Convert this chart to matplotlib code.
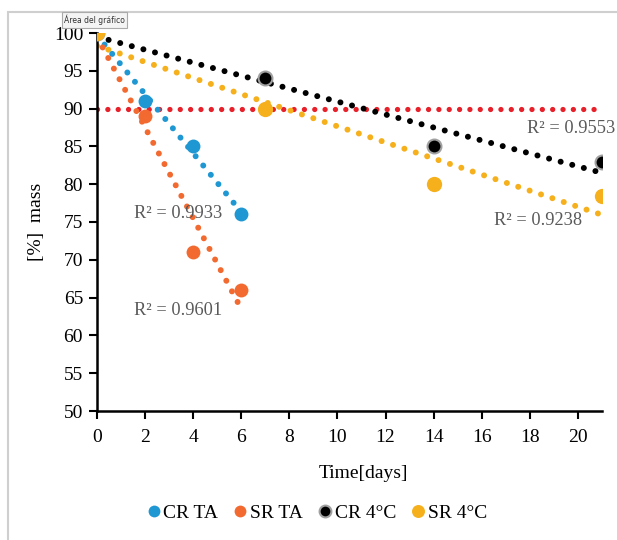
import numpy as np
import matplotlib
matplotlib.use("Agg")
import matplotlib.pyplot as plt
from matplotlib.patches import Rectangle

# ---- data ----
cr_ta_x = [0, 2, 4, 6]
cr_ta_y = [100, 91, 85, 76]
sr_ta_x = [0, 2, 4, 6]
sr_ta_y = [100, 89, 71, 66]
cr_4c_x = [0, 7, 14, 21]
cr_4c_y = [100, 94, 85, 83]
sr_4c_x = [0, 7, 14, 21]
sr_4c_y = [100, 90, 80, 78.5]
limit_x = [0, 21]
limit_y = [90, 90]
r2_labels = ["R² = 0.9933", "R² = 0.9601", "R² = 0.9553", "R² = 0.9238"]
series_names = ["CR TA", "SR TA", "CR 4°C", "SR 4°C"]

c_blue = "#1f97d3"
c_orange = "#f26a30"
c_black = "#000000"
c_yellow = "#f6b01c"

plt.rcParams['font.family'] = ['Liberation Serif', 'DejaVu Serif']

fig = plt.figure(figsize=(6.17, 5.40), dpi=100)
# outer chart-area frame
fig.patches.append(Rectangle((8/617, -0.1), 1.2, 1 - 12/540 + 0.1,
                             transform=fig.transFigure, fill=False,
                             edgecolor="#cfcfcf", linewidth=1.5))
ax = fig.add_axes([97/617, 1 - 411/540, (602 - 97)/617, (411 - 33)/540])

def trend(xs, ys, color, lw=4.3, gap=2.0):
    xs = np.asarray(xs, float); ys = np.asarray(ys, float)
    m, b = np.polyfit(xs, ys, 1)
    xx = np.array([xs.min(), xs.max()])
    ax.plot(xx, m * xx + b, color=color, lw=lw, dashes=(0.01, gap),
            dash_capstyle='round', zorder=2)

# red limit line
ax.plot(limit_x, limit_y, color="#e8202a", lw=3.8, dashes=(0.01, 1.95),
        dash_capstyle='round', zorder=2)

trend(cr_4c_x, cr_4c_y, c_black)
trend(sr_4c_x, sr_4c_y, c_yellow)
trend(cr_ta_x, cr_ta_y, c_blue)
trend(sr_ta_x, sr_ta_y, c_orange)

ms = 10
ax.plot(cr_ta_x, cr_ta_y, 'o', color=c_blue, ms=ms, mec='none', zorder=3, label=series_names[0])
ax.plot(sr_ta_x, sr_ta_y, 'o', color=c_orange, ms=ms, mec='none', zorder=3, label=series_names[1])
ax.plot(cr_4c_x, cr_4c_y, 'o', color=c_black, ms=ms, mec='#a0a0a0', mew=1.5, zorder=3, label=series_names[2])
ax.plot(sr_4c_x, sr_4c_y, 'o', color=c_yellow, ms=ms + 1, mec='none', zorder=4, label=series_names[3])

# R² labels
tcol = "#595959"
fs = 13.2
ax.text(1.55, 76.1, r2_labels[0], color=tcol, fontsize=fs, va='center', ha='left', zorder=5)
ax.text(1.55, 63.3, r2_labels[1], color=tcol, fontsize=fs, va='center', ha='left', zorder=5)
ax.text(17.9, 87.4, r2_labels[2], color=tcol, fontsize=fs, va='center', ha='left', zorder=5)
ax.text(16.5, 75.2, r2_labels[3], color=tcol, fontsize=fs, va='center', ha='left', zorder=5)

ax.set_xlim(0, 21)
ax.set_ylim(50, 100)
ax.set_xticks(range(0, 21, 2))
ax.set_yticks(range(50, 101, 5))
for s in ['top', 'right']:
    ax.spines[s].set_visible(False)
for s in ['left', 'bottom']:
    ax.spines[s].set_linewidth(1.8)
    ax.spines[s].set_color('black')
ax.tick_params(axis='both', direction='out', length=6, width=1.5, labelsize=14, pad=4)
ax.tick_params(axis='x', pad=7)
ax.set_xlabel("Time[days]", fontsize=14)
ax.xaxis.set_label_coords((363 - 97) / 505, -(473 - 411) / 378)
ax.xaxis.label.set_va('center')
ax.set_ylabel("[%]  mass", fontsize=14)
ax.yaxis.set_label_coords(-(97 - 36) / 505, 0.5)
ax.yaxis.label.set_va('center')

leg = fig.legend(loc='center', bbox_to_anchor=(317.5/617, 1 - 513/540), ncol=4, frameon=False,
                 fontsize=14, handletextpad=0.2, columnspacing=0.83, handlelength=0.6,
                 markerscale=0.85)

# tooltip box
fig.text(64/617, 1 - 20/540, "Área del gráfico", fontsize=5.5, family='DejaVu Sans',
         color='#333333', va='center', ha='left',
         bbox=dict(boxstyle='square,pad=0.3', fc='#f4f4f4', ec='#aaaaaa', lw=0.8))

fig.savefig("out.png", dpi=100)
